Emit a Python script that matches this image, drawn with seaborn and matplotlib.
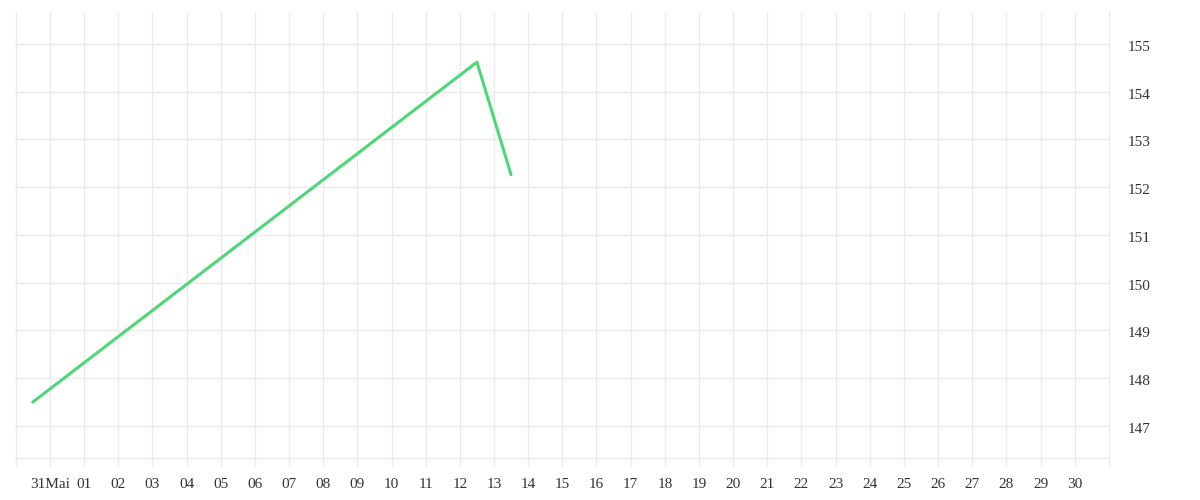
import seaborn as sns
import matplotlib.pyplot as plt
import matplotlib.transforms as mtransforms
import pandas as pd

# data (x = day index on the axis, 1 = "31Mai", 2 = "01", ...)
day_pos = [0.5, 13.5, 14.5]
price = [147.5, 154.62, 152.26]

tick_pos = list(range(0, 33))
tick_labels = [""] + ["31Mai"] + ["%02d" % d for d in range(1, 31)] + [""]
y_ticks = [147, 148, 149, 150, 151, 152, 153, 154, 155]

grid_col = "#ebebeb"
line_col = "#4fd678"

sns.set_style("white")
plt.rcParams["font.family"] = ["Liberation Serif", "DejaVu Serif"]

fig = plt.figure(figsize=(12, 5), dpi=100)
ax = fig.add_axes([15 / 1200, 33 / 500, 1095 / 1200, 455 / 500])

df = pd.DataFrame({"day": day_pos, "price": price})
sns.lineplot(data=df, x="day", y="price", color=line_col, linewidth=2.2, ax=ax)

ax.set_xlim(-0.02, 32.03)
ax.set_ylim(146.14, 155.67)
ax.set_xticks(tick_pos)
ax.set_xticklabels(tick_labels)
ax.set_yticks(y_ticks)
ax.yaxis.tick_right()
ax.grid(True, color=grid_col, linewidth=1)
ax.set_axisbelow(True)
ax.axhline(146.33, color=grid_col, linewidth=1, zorder=0)
ax.tick_params(axis="both", length=0, labelsize=11, labelcolor="#333333")
ax.tick_params(axis="x", pad=8)
ax.tick_params(axis="y", pad=13)
# y labels sit a touch below their grid lines in the original
shift = mtransforms.ScaledTranslation(0, -2 / 100, fig.dpi_scale_trans)
for lab in ax.get_yticklabels():
    lab.set_transform(lab.get_transform() + shift)
for s in ax.spines.values():
    s.set_visible(False)
ax.set_xlabel("")
ax.set_ylabel("")

fig.savefig("out.png", dpi=100)
